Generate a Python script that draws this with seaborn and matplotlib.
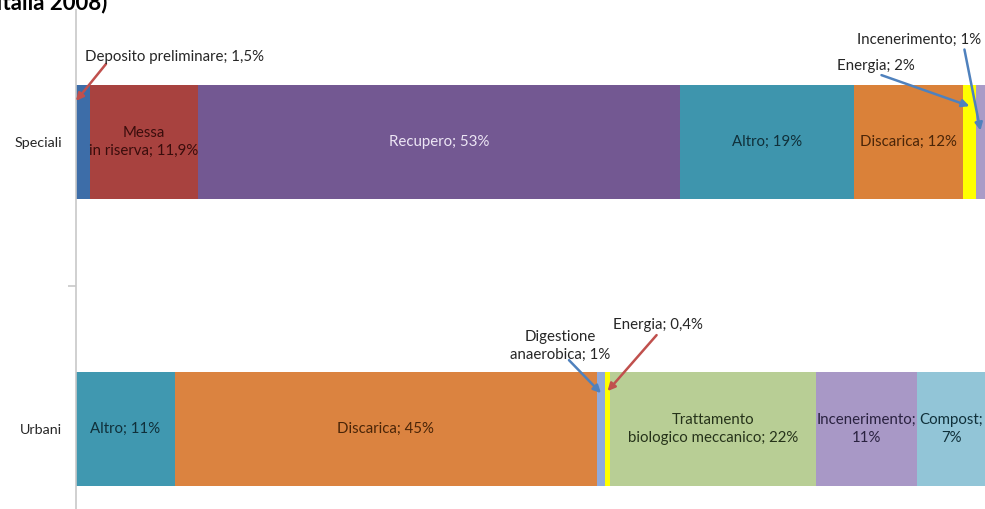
import numpy as np
import matplotlib
matplotlib.use("Agg")
import matplotlib.pyplot as plt
import seaborn as sns

# data (100% stacked bars)
rows = ["Speciali", "Urbani"]

speciali_names = ["Deposito preliminare", "Messa in riserva", "Recupero", "Altro",
                  "Discarica", "Energia", "Incenerimento"]
speciali_values = [1.5, 11.9, 52.8, 19, 12, 1.4, 1]
speciali_labels = ["", "Messa\nin riserva; 11,9%", "Recupero; 53%", "Altro; 19%",
                   "Discarica; 12%", "", ""]
speciali_colors = ["#3D6DA8", "#A8423F", "#735892", "#3E95AD", "#DA8139", "#FFFF00", "#A99BC7"]
speciali_text_colors = ["#1a1a1a", "#3a0d0c", "#EDE6F5", "#10303a", "#4a2508", "#1a1a1a", "#1a1a1a"]

urbani_names = ["Altro", "Discarica", "Digestione anaerobica", "Energia",
                "Trattamento biologico meccanico", "Incenerimento", "Compost"]
urbani_values = [10.8, 46.3, 0.9, 0.55, 22.6, 11.1, 7.4]
urbani_labels = ["Altro; 11%", "Discarica; 45%", "", "",
                 "Trattamento\nbiologico meccanico; 22%", "Incenerimento;\n11%", "Compost;\n7%"]
urbani_colors = ["#4098B0", "#DB8340", "#8FAADC", "#FFFF00", "#B8CE95", "#A898C6", "#92C5D7"]
urbani_text_colors = ["#10303a", "#4a2508", "#1a1a1a", "#1a1a1a", "#26331a", "#2a2240", "#10303a"]

# callouts for the thin segments: (row, segment index, text, colour, ha,
# text offset px, arrow start offset px, tip y shift, tip anchor)
callouts = [
    (0, 0, "Deposito preliminare; 1,5%", "#C0504D", "left", (9, 44), (30, 37), -0.143, "left"),
    (0, 5, "Energia; 2%", "#4F81BD", "left", (-132, 40), (-88, 31), -0.125, "center"),
    (0, 6, "Incenerimento; 1%", "#4F81BD", "right", (1, 91), (-16, 81), -0.04, "center"),
    (1, 2, "Digestione\nanaerobica; 1%", "#4F81BD", "center", (-41, 47), (-32, 33), -0.125, "center"),
    (1, 3, "Energia; 0,4%", "#C0504D", "left", (5, 66), (49, 56), -0.132, "center"),
]


def shares(values):
    v = np.array(values, dtype=float)
    return v / v.sum() * 100


def drawStackedRow(ax, row, values, colors):
    pct = shares(values)
    ends = np.cumsum(pct)
    # overlap technique: longest cumulative bar first, shorter ones on top
    for end, c in reversed(list(zip(ends, colors))):
        sns.barplot(x=[end], y=[row], order=rows, orient="h", color=c, saturation=1,
                    width=0.4, linewidth=0, errorbar=None, ax=ax)
    return pct, ends - pct


def createChart():
    sns.set_style("white")
    plt.rcParams['font.family'] = ['Lato', 'DejaVu Sans']

    fig = plt.figure(figsize=(9.85, 5.09), dpi=100)
    ax = fig.add_axes([76 / 985, 0, 1 - 76 / 985, 1])

    segs = []
    for row, vals, cols in [(rows[0], speciali_values, speciali_colors),
                            (rows[1], urbani_values, urbani_colors)]:
        segs.append(drawStackedRow(ax, row, vals, cols))

    ax.set_xlim(0, 100)
    ax.set_ylim(1 + 80 / 287, -142 / 287)

    # labels inside the bars
    for i, (labels, tcols) in enumerate([(speciali_labels, speciali_text_colors),
                                         (urbani_labels, urbani_text_colors)]):
        pct, starts = segs[i]
        for lab, p, s, tc in zip(labels, pct, starts, tcols):
            if lab:
                ax.text(s + p / 2, i, lab, ha="center", va="center", fontsize=10.8,
                        color=tc, linespacing=1.3)

    # callouts with arrows
    for i, k, txt, col, ha, toff, aoff, dy, where in callouts:
        pct, starts = segs[i]
        tx = starts[k] if where == "left" else starts[k] + pct[k] / 2
        tip = (tx, i + dy)
        ax.annotate("", xy=tip, xytext=aoff, textcoords="offset pixels",
                    arrowprops=dict(arrowstyle="-|>", color=col, lw=1.8,
                                    mutation_scale=11, shrinkA=0, shrinkB=0),
                    annotation_clip=False)
        ax.annotate(txt, xy=tip, xytext=toff, textcoords="offset pixels",
                    ha=ha, va="center", fontsize=10.8, color="#262626",
                    linespacing=1.3, annotation_clip=False)

    # axes styling
    for side in ["top", "right", "bottom"]:
        ax.spines[side].set_visible(False)
    ax.spines["left"].set_color("#C8C8C8")
    ax.spines["left"].set_linewidth(1.2)
    ax.spines["left"].set_bounds(1 + 80 / 287, -132 / 287)
    ax.set_xticks([])
    ax.set_xlabel("")
    ax.set_ylabel("")
    ax.set_yticks([0, 1])
    ax.set_yticklabels(rows, fontsize=10.3, color="#262626")
    ax.tick_params(axis="y", which="major", length=0, pad=10)
    ax.set_yticks([0.5], minor=True)
    ax.tick_params(axis="y", which="minor", length=6, color="#C8C8C8", width=1.2, left=True)

    # cropped title at the very top of the picture
    fig.text(-0.004, 1 - 9 / 509, "Italia 2008)", fontsize=16, fontweight="bold",
             ha="left", va="baseline", color="#000000")

    fig.savefig("out.png", dpi=100)
    plt.close(fig)


if __name__ == "__main__":
    createChart()
